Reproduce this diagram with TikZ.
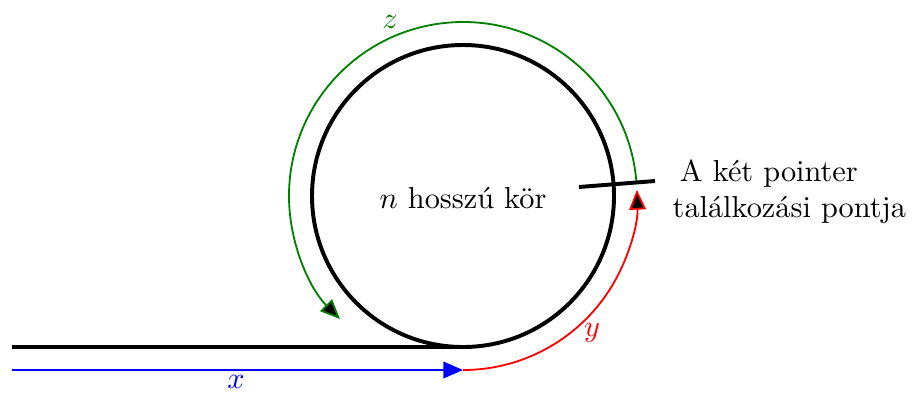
\documentclass[tikz,border=0pt]{standalone}
\usepackage{tikz}
\usetikzlibrary{arrows.meta,positioning,calc}

\begin{document}
\begin{tikzpicture}[
    x=0.0116cm, y=0.0116cm,
    ring/.style={line width=1.3pt},
    path/.style={line width=0.6pt},
    tip/.style={-{Triangle[length=6.5pt,width=5.5pt]}},
    blacktip/.style={-{Triangle[length=6.5pt,width=5.5pt,fill=black]}}
]
\useasboundingbox (0,0) rectangle (913,394);

% The circle and the tail
\coordinate (c) at (463,198);
\draw[ring] (c) circle (151);
\coordinate (tailstart) at (12,47);
\coordinate (join) at (463,47);
\draw[ring] (tailstart) -- (join);

% x: along the tail
\coordinate (xstart) at (12,24);
\coordinate (xend) at (463,24);
\draw[path, blue, tip] (xstart) -- (xend);
\node[blue] (xlabel) at (236,12) {$x$};

% y: from the entry to the meeting point
\draw[path, red, blacktip] (xend) arc (-90:2:174);
\node[red] (ylabel) at (592,61) {$y$};

% z: the rest of the circle
\draw[path, green!50!black, blacktip] ($(c)+(5:174)$) arc (5:225:174);
\node[green!50!black] (zlabel) at (390,372) {$z$};

% Meeting point
\coordinate (meetA) at (579,207);
\coordinate (meetB) at (655,213);
\draw[ring] (meetA) -- (meetB);

% Labels
\node (circ) at (463,196) {$n$ hossz\'u k\"or};
\node[anchor=west, align=left] (meet) at (662,202) {\hspace*{2.4pt}A k\'et pointer\\tal\'alkoz\'asi pontja};

\end{tikzpicture}
\end{document}
